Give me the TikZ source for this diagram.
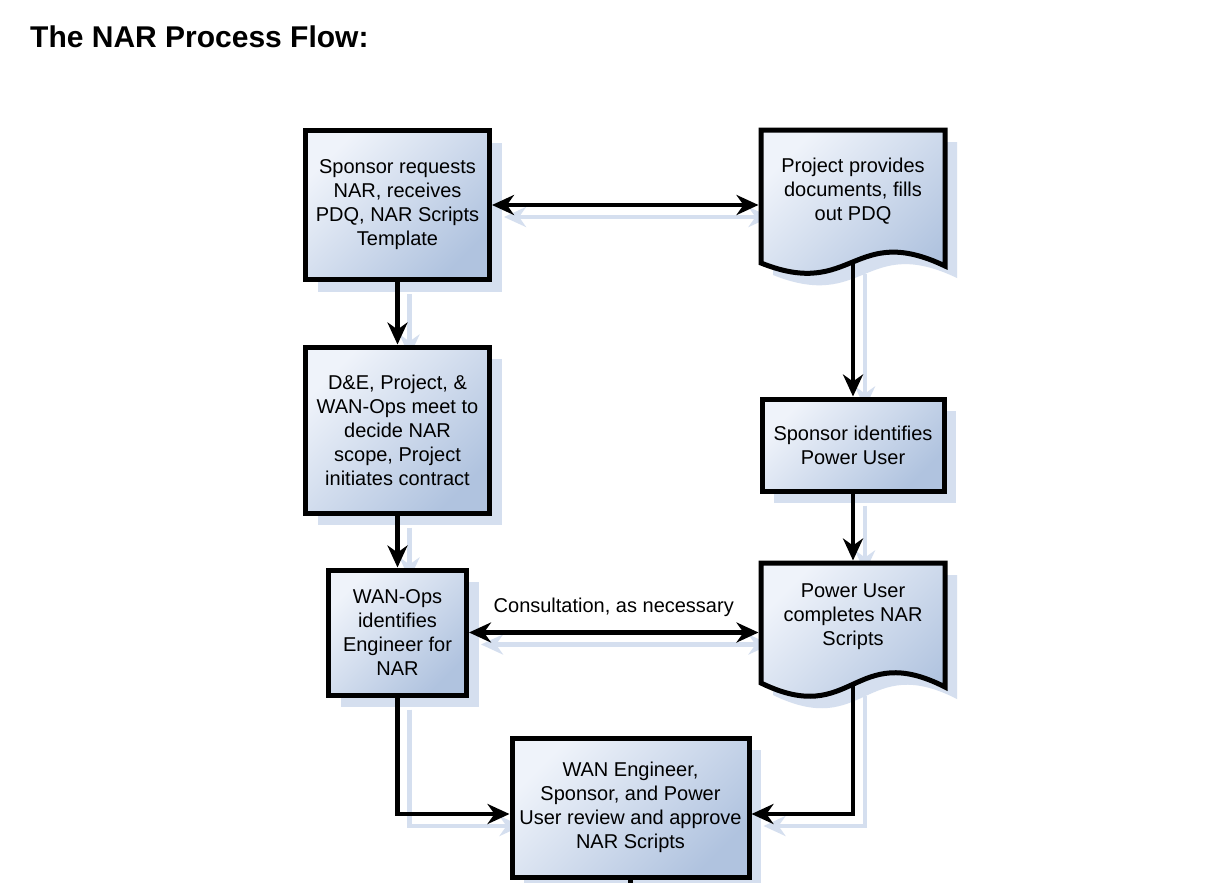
\documentclass[tikz,border=0pt]{standalone}
\usepackage{fontspec}
\setmainfont{Liberation Sans}
\usetikzlibrary{arrows.meta,shadows,backgrounds}

\definecolor{boxlight}{HTML}{EFF3FA}
\definecolor{boxdark}{HTML}{B0C3DF}
\definecolor{shadowblue}{HTML}{D5DFEF}

% connectors of the flow, drawn with the style given as argument
\newcommand\flowlinks[1]{%
  \draw[#1,<->] (sponsor.east) -- (sponsor.east -| project.west);
  \draw[#1,->] (sponsor.south) -- (scope.north);
  \draw[#1,->] (scope.south) -- (wanops.north);
  \draw[#1,->] (projectfoot) -- (identify.north);
  \draw[#1,->] (identify.south) -- (power.north);
  \draw[#1,<->] (wanops.east) -- (wanops.east -| power.west);
  \draw[#1,->] (wanops.south) |- ([yshift=-6.5pt]final.west);
  \draw[#1,->] (powerfoot) |- ([yshift=-6.5pt]final.east);
}

\begin{document}
\begin{tikzpicture}[x=1pt,y=-1pt,
  boxtext/.style={font=\fontsize{20}{24}\selectfont, align=center},
  boxfill/.style={top color=boxlight, bottom color=boxdark, shading angle=45},
  casting/.style={general shadow={fill=shadowblue, shadow xshift=12pt, shadow yshift=-12pt}},
  procbox/.style={draw=black, line width=5pt, boxfill, casting, boxtext, inner sep=0pt},
  doclabel/.style={boxtext, inner sep=0pt, outer sep=2.5pt, minimum width=184pt},
  docoutline/.style={draw=black, line width=5pt, line join=miter, boxfill, casting},
  arrowtips/.style={>={Stealth[length=22pt,width=20pt,inset=7pt]}},
  link/.style={draw=black, line width=4.5pt, arrowtips},
  linkshade/.style={draw=shadowblue, line width=4.5pt, arrowtips},
]
\useasboundingbox (0,0) rectangle (1229,883);
\begin{scope}[on background layer]
  \fill[white] (0,0) rectangle (1229,883);
\end{scope}

% heading
\node[anchor=base west, inner sep=0pt, font=\bfseries\fontsize{30}{36}\selectfont]
  (title) at (30,48) {The NAR Process Flow:};

% left column of process boxes
\node[procbox, minimum width=184pt, minimum height=149pt] (sponsor) at (397.5,205)
  {Sponsor requests\\NAR, receives\\PDQ, NAR Scripts\\Template};
\node[procbox, minimum width=184pt, minimum height=166pt] (scope) at (397.5,430)
  {D\&E, Project, \&\\WAN-Ops meet to\\decide NAR\\scope, Project\\initiates contract};
\node[procbox, minimum width=138pt, minimum height=125pt] (wanops) at (397.5,632.5)
  {WAN-Ops\\identifies\\Engineer for\\NAR};

% right column: document shapes and the identification step
\draw[docoutline] (761,130) -- (761,263)
  .. controls (853,300) and (853,222) .. (945,266) coordinate[pos=0.5] (projectfoot)
  -- (945,130) -- cycle;
\node[doclabel, minimum height=122pt] (project) at (853,191)
  {Project provides\\documents, fills\\out PDQ};

\node[procbox, minimum width=182pt, minimum height=92pt] (identify) at (853,445)
  {Sponsor identifies\\Power User};

\draw[docoutline] (761,563) -- (761,683)
  .. controls (853,728) and (853,640) .. (945,687) coordinate[pos=0.5] (powerfoot)
  -- (945,563) -- cycle;
\node[doclabel, minimum height=108pt] (power) at (853,617)
  {Power User\\completes NAR\\Scripts};

% final review step
\node[procbox, minimum width=237pt, minimum height=139pt] (final) at (630.5,807.5)
  {WAN Engineer,\\Sponsor, and Power\\User review and approve\\NAR Scripts};

% connectors with their cast shadows
\begin{scope}[on background layer]
  \begin{scope}[transform canvas={xshift=12pt,yshift=-12pt}]
    \flowlinks{linkshade}
  \end{scope}
\end{scope}
\flowlinks{link}

\path (wanops.east) -- (wanops.east -| power.west)
  node[midway, yshift=25pt, boxtext] (consultnote) {Consultation, as necessary};

% outgoing line below the final step
\coordinate (exitmark) at (630.5,883);
\draw[link] (final.south) -- (final.south |- exitmark);
\end{tikzpicture}
\end{document}
